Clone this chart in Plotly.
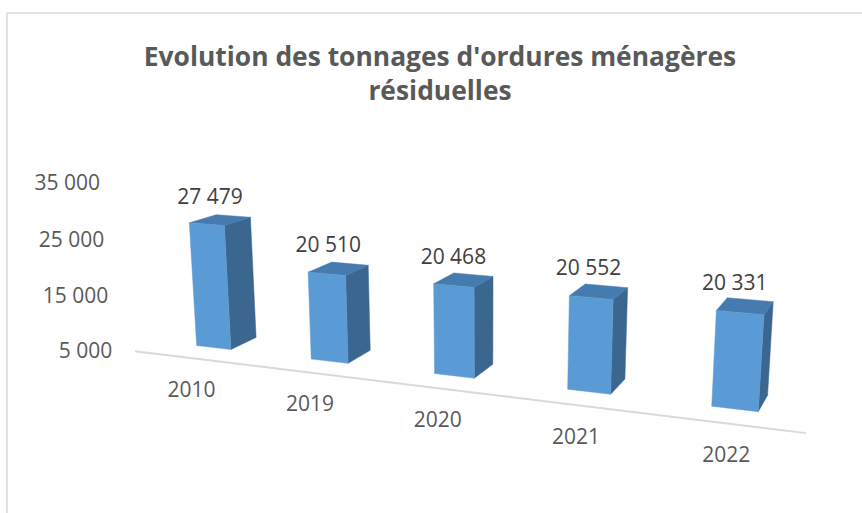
import numpy as np
import plotly.graph_objects as go

# ---------------- data ----------------
years = ["2010", "2019", "2020", "2021", "2022"]
values = [27479, 20510, 20468, 20552, 20331]
tick_values = [5000, 15000, 25000, 35000]
axis_min = 5000
title_text = "Evolution des tonnages d'ordures ménagères<br>résiduelles"

def fmt(v):
    return f"{v:,}".replace(",", " ")

# ---------------- 3D view (style) ----------------
# camera: yaw, pitch, roll, focal length, position (x, y, z), principal point (u, v)
CAMERA = (0.3731, 0.2612, -0.0003, 1289.74, 5.3838, -8.1103, 2.7508, 481.63, 321.34)
BAR_WIDTH = 0.3066      # in category units
BAR_DEPTH = 0.3681
FLOOR_GAP = 0.3061      # floor front edge in front of the bars
HEIGHT_PER_10K = 0.4274 # world height per 10 000 units
TICK_OFFSET = (-22.8, 1.3)
VALUE_OFFSET = (-10.3, -21.5)
CAT_OFFSET = (0.4, 33.6)

def project(P, cam=CAMERA):
    a, b, gm, f, Cx, Cy, Cz, cx, cy = cam
    P = np.asarray(P, float)
    ca, sa, cb, sb = np.cos(a), np.sin(a), np.cos(b), np.sin(b)
    r = np.array([ca, sa, 0.0])
    fw = np.array([-sa * cb, ca * cb, -sb])
    up = np.array([-sa * sb, ca * sb, cb])
    D = P - np.array([Cx, Cy, Cz])
    x, y, z = D @ r, D @ up, D @ fw
    du, dv = f * x / z, -f * y / z
    u = cx + np.cos(gm) * du - np.sin(gm) * dv
    v = cy + np.sin(gm) * du + np.cos(gm) * dv
    return np.stack([u, v], -1)

def height(val):
    return (val - axis_min) / 10000 * HEIGHT_PER_10K

def bar_corners(i, val):
    w, d, zt = BAR_WIDTH, BAR_DEPTH, height(val)
    return np.array([(i - w/2, 0, zt), (i + w/2, 0, zt), (i - w/2, d, zt), (i + w/2, d, zt),
                     (i - w/2, 0, 0), (i + w/2, 0, 0), (i + w/2, d, 0)])

# ---------------- figure ----------------
W, H = 862, 513
front_col, top_col, side_col = "#5B9BD5", "#467BB0", "#3A6690"
fig = go.Figure()

n = len(years)
bl = project([(-0.5, -FLOOR_GAP, 0), (n - 0.5, -FLOOR_GAP, 0)])
fig.add_trace(go.Scatter(x=bl[:, 0], y=bl[:, 1], mode="lines",
                         line=dict(color="#D9D9D9", width=2), hoverinfo="skip"))

for i, val in enumerate(values):
    FTL, FTR, BTL, BTR, FBL, FBR, BBR = project(bar_corners(i, val))
    for poly, col in [((FTR, BTR, BBR, FBR), side_col),
                      ((FTL, BTL, BTR, FTR), top_col),
                      ((FTL, FTR, FBR, FBL), front_col)]:
        arr = np.array(poly + (poly[0],))
        fig.add_trace(go.Scatter(x=arr[:, 0], y=arr[:, 1], mode="lines", fill="toself",
                                 fillcolor=col, line=dict(color=col, width=0.5),
                                 hoverinfo="skip"))

vl = project([(i, BAR_DEPTH / 2, height(v)) for i, v in enumerate(values)]) + VALUE_OFFSET
fig.add_trace(go.Scatter(x=vl[:, 0], y=vl[:, 1], mode="text", text=[fmt(v) for v in values],
                         textfont=dict(family="Open Sans", size=21, color="#404040"),
                         hoverinfo="skip"))
cl = project([(i, -FLOOR_GAP, 0) for i in range(n)]) + CAT_OFFSET
fig.add_trace(go.Scatter(x=cl[:, 0], y=cl[:, 1], mode="text", text=years,
                         textfont=dict(family="Open Sans", size=21, color="#595959"),
                         hoverinfo="skip"))
tl = project([(-0.5, -FLOOR_GAP, height(t)) for t in tick_values]) + TICK_OFFSET
fig.add_trace(go.Scatter(x=tl[:, 0], y=tl[:, 1], mode="text", text=[fmt(t) for t in tick_values],
                         textposition="middle left",
                         textfont=dict(family="Open Sans", size=21, color="#595959"),
                         hoverinfo="skip"))

fig.update_layout(
    width=W, height=H, margin=dict(l=0, r=0, t=0, b=0),
    paper_bgcolor="white", plot_bgcolor="white", showlegend=False,
    xaxis=dict(range=[0, W], visible=False, fixedrange=True),
    yaxis=dict(range=[H, 0], visible=False, fixedrange=True),
    title=dict(text=title_text, x=440 / W, xanchor="center", y=1 - 66 / H, yanchor="top",
               font=dict(family="Open Sans", size=26.4, color="#595959", weight="bold")),
    shapes=[
        dict(type="line", xref="paper", yref="paper", x0=7 / W, x1=1, y0=1 - 13 / H, y1=1 - 13 / H,
             line=dict(color="#D9D9D9", width=1.5)),
        dict(type="line", xref="paper", yref="paper", x0=7 / W, x1=7 / W, y0=0, y1=1 - 13 / H,
             line=dict(color="#D9D9D9", width=1.5)),
    ],
)
fig.write_html("out.html", config={"displayModeBar": False},
               post_script="document.body.style.margin='0';")
